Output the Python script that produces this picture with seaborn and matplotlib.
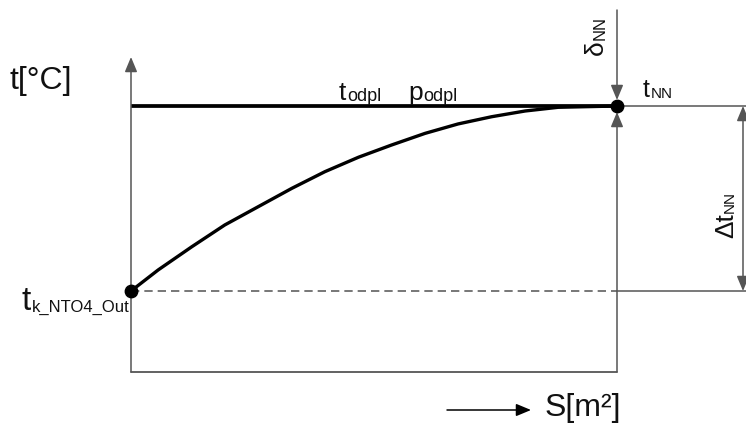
import matplotlib.pyplot as plt
import seaborn as sns

# Temperature profile along the heating surface (normalised: t_k_NTO4_Out = 0, t_NN = 1)
surface = [0.0, 0.056, 0.125, 0.193, 0.262, 0.331, 0.399, 0.468, 0.536,
           0.605, 0.673, 0.742, 0.811, 0.879, 1.0]
temperature = [0.0, 0.114, 0.239, 0.357, 0.456, 0.555, 0.645, 0.723, 0.789,
               0.852, 0.903, 0.942, 0.973, 0.993, 1.0]
t_k_out = 0.0
t_nn = 1.0
s_end = 1.0

sns.set_theme(style='white')
plt.rcParams['font.family'] = ['Liberation Sans', 'DejaVu Sans']

FRAME = '#555555'
INK = '#111111'
DESC = 0.21  # font descent as a fraction of the font size

fig = plt.figure(figsize=(7.46, 4.23), dpi=100)
ax = fig.add_axes([0, 0, 1, 1])


# layout helpers: pixel position in the 746x423 picture -> data units
def px(x):
    return (x - 131) / 486


def py(y):
    return (291 - y) / 185


ax.set_xlim(px(0), px(746))
ax.set_ylim(py(423), py(0))
ax.axis('off')


def arrow(x0, y0, x1, y1, style='-|>', color=FRAME, lw=1.1):
    ax.annotate('', xy=(x1, y1), xytext=(x0, y0),
                arrowprops=dict(arrowstyle=style + ',head_length=0.6,head_width=0.25',
                                mutation_scale=15, color=color, lw=lw,
                                shrinkA=0, shrinkB=0))


def sub_text(x, y, main, sub, size, sub_size, rotation=0, drop=1.0):
    # subscript sits (almost) on the main baseline, like in the drawing
    shift = DESC * (size - sub_size) - drop
    if rotation == 0:
        m = ax.text(x, y, main, fontsize=size, ha='left', va='baseline', color=INK)
        ax.annotate(sub, xy=(1, 0), xycoords=m, xytext=(0.3, shift),
                    textcoords='offset points', fontsize=sub_size,
                    ha='left', va='bottom', color=INK)
    else:
        m = ax.text(x, y, main, fontsize=size, rotation=90, ha='right', va='bottom', color=INK)
        ax.annotate(sub, xy=(1, 1), xycoords=m, xytext=(-shift, 0.3),
                    textcoords='offset points', fontsize=sub_size, rotation=90,
                    ha='right', va='bottom', color=INK)


# frame: t axis, bottom line, right vertical
arrow(0, py(372), 0, py(57))
ax.plot([0, s_end], [py(372), py(372)], color=FRAME, lw=1.3)
arrow(s_end, py(10), s_end, py(100))
arrow(s_end, py(372), s_end, py(112))

# saturation line and the extensions to the right
ax.plot([0, s_end], [t_nn, t_nn], color='black', lw=2.7, solid_capstyle='butt')
ax.plot([s_end, px(746)], [t_nn, t_nn], color=FRAME, lw=1.1)
ax.plot([0, s_end], [t_k_out, t_k_out], color='#606060', lw=1.2, ls=(0, (5, 3)))
ax.plot([s_end, px(746)], [t_k_out, t_k_out], color=FRAME, lw=1.1)

# heating curve
sns.lineplot(x=surface, y=temperature, ax=ax, color='black', lw=2.4)
ax.scatter([0, s_end], [t_k_out, t_nn], s=80, color='black', zorder=5)

# delta t arrow
arrow(px(743), t_k_out, px(743), t_nn, style='<|-|>')

# S axis arrow
arrow(px(447), py(410), px(531), py(410), color='black')

# labels
ax.text(px(10), py(89), 't[°C]', fontsize=23, ha='left', va='baseline', color=INK)
ax.text(px(545), py(416), 'S[m²]', fontsize=23, ha='left', va='baseline', color=INK)
sub_text(px(339), py(100), 't', 'odpl', 19, 13)
sub_text(px(408), py(100), 'p', 'odpl', 19, 13)
sub_text(px(643), py(97), 't', 'NN', 18, 11)
sub_text(px(22), py(310), 't', 'k_NTO4_Out', 24, 12)
sub_text(px(608), py(55), 'δ', 'NN', 19, 12, rotation=90)
sub_text(px(738), py(238), 'Δt', 'NN', 19, 11, rotation=90)

fig.savefig('out.png', dpi=100)
